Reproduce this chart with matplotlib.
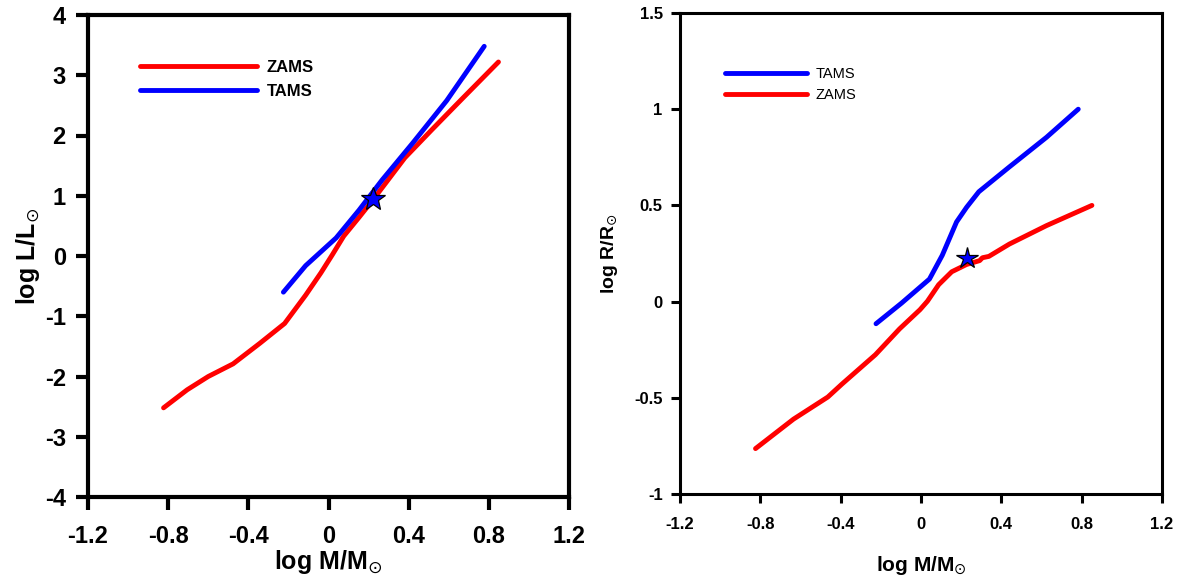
import matplotlib
matplotlib.use("Agg")
import matplotlib.pyplot as plt
from matplotlib.ticker import FixedLocator, FixedFormatter

plt.rcParams['font.family'] = ['Liberation Sans', 'DejaVu Sans']
plt.rcParams['mathtext.fontset'] = 'dejavusans'

# ---- Left panel: log L vs log M ----
zamsL_x = [-0.823, -0.705, -0.600, -0.476, -0.343, -0.219, -0.114, -0.038, 0.019, 0.076, 0.152, 0.219, 0.267, 0.381, 0.514, 0.667, 0.848]
zamsL_y = [-2.52, -2.22, -2.00, -1.79, -1.45, -1.12, -0.65, -0.28, 0.02, 0.33, 0.64, 0.92, 1.13, 1.63, 2.09, 2.61, 3.22]
tamsL_x = [-0.225, -0.114, 0.038, 0.152, 0.267, 0.419, 0.590, 0.777]
tamsL_y = [-0.60, -0.16, 0.30, 0.76, 1.26, 1.87, 2.58, 3.48]
starL = (0.22, 0.95)

# ---- Right panel: log R vs log M ----
tamsR_x = [-0.224, -0.097, 0.042, 0.106, 0.177, 0.227, 0.288, 0.44, 0.625, 0.783]
tamsR_y = [-0.115, -0.008, 0.117, 0.241, 0.414, 0.490, 0.571, 0.70, 0.854, 1.0]
zamsR_x = [-0.824, -0.635, -0.464, -0.394, -0.227, -0.107, -0.005, 0.032, 0.088, 0.153, 0.227, 0.292, 0.306, 0.338, 0.44, 0.625, 0.851]
zamsR_y = [-0.764, -0.611, -0.496, -0.429, -0.276, -0.142, -0.042, 0.002, 0.088, 0.155, 0.193, 0.213, 0.228, 0.235, 0.299, 0.395, 0.50]
starR = (0.227, 0.228)

x_ticks = [-1.2, -0.8, -0.4, 0, 0.4, 0.8, 1.2]
x_labels = ['-1.2', '-0.8', '-0.4', '0', '0.4', '0.8', '1.2']
yL_ticks = [-4, -3, -2, -1, 0, 1, 2, 3, 4]
yL_labels = ['-4', '-3', '-2', '-1', '0', '1', '2', '3', '4']
yR_ticks = [-1, -0.5, 0, 0.5, 1, 1.5]
yR_labels = ['-1', '-0.5', '0', '0.5', '1', '1.5']

W, H = 1184, 580
fig = plt.figure(figsize=(W / 100, H / 100), dpi=100)

def axrect(x0, y0, x1, y1):
    return [x0 / W, 1 - y1 / H, (x1 - x0) / W, (y1 - y0) / H]

axL = fig.add_axes(axrect(88, 15, 569, 497))
axR = fig.add_axes(axrect(680, 13, 1162, 494))

RED = '#ff0000'
BLUE = '#0000ff'
LW = 3.5

# Left
axL.plot(zamsL_x, zamsL_y, color=RED, lw=LW, solid_capstyle='round', label='ZAMS')
axL.plot(tamsL_x, tamsL_y, color=BLUE, lw=LW, solid_capstyle='round', label='TAMS')
axL.plot([starL[0]], [starL[1]], marker='*', ms=18, mfc=BLUE, mec='black', mew=0.9, ls='none', zorder=5)
axL.set_xlim(-1.2, 1.2)
axL.set_ylim(-4, 4)
axL.xaxis.set_major_locator(FixedLocator(x_ticks))
axL.xaxis.set_major_formatter(FixedFormatter(x_labels))
axL.yaxis.set_major_locator(FixedLocator(yL_ticks))
axL.yaxis.set_major_formatter(FixedFormatter(yL_labels))
for s in axL.spines.values():
    s.set_linewidth(3.0)
axL.tick_params(direction='out', length=9, width=3.0, labelsize=17, pad=7)
axL.tick_params(axis='x', pad=11)
for t in axL.get_xticklabels() + axL.get_yticklabels():
    t.set_fontweight('bold')
axL.set_xlabel(r'log M/M$_{\odot}$', fontsize=18, fontweight='bold', labelpad=0)
axL.set_ylabel(r'log L/L$_{\odot}$', fontsize=18, fontweight='bold', labelpad=2)
hL, lL = axL.get_legend_handles_labels()
legL = axL.legend(hL, lL, loc='upper left', bbox_to_anchor=(140 / W, 1 - 60 / H),
                  bbox_transform=fig.transFigure, frameon=False, handlelength=7.0,
                  handletextpad=0.6, labelspacing=0.55, borderpad=0, borderaxespad=0,
                  prop={'family': 'Liberation Sans', 'weight': 'bold', 'size': 12})

# Right
axR.plot(tamsR_x, tamsR_y, color=BLUE, lw=LW, solid_capstyle='round', label='TAMS')
axR.plot(zamsR_x, zamsR_y, color=RED, lw=LW, solid_capstyle='round', label='ZAMS')
axR.plot([starR[0]], [starR[1]], marker='*', ms=16, mfc=BLUE, mec='black', mew=0.9, ls='none', zorder=5)
axR.set_xlim(-1.2, 1.2)
axR.set_ylim(-1, 1.5)
axR.xaxis.set_major_locator(FixedLocator(x_ticks))
axR.xaxis.set_major_formatter(FixedFormatter(x_labels))
axR.yaxis.set_major_locator(FixedLocator(yR_ticks))
axR.yaxis.set_major_formatter(FixedFormatter(yR_labels))
for s in axR.spines.values():
    s.set_linewidth(2.2)
axR.tick_params(direction='out', length=6.5, width=2.2, labelsize=12, pad=6)
axR.tick_params(axis='x', pad=10)
for t in axR.get_xticklabels() + axR.get_yticklabels():
    t.set_fontweight('bold')
axR.set_xlabel(r'log M/M$_{\odot}$', fontsize=15, fontweight='bold', labelpad=16)
axR.set_ylabel(r'log R/R$_{\odot}$', fontsize=14, fontweight='bold', labelpad=10)
hR, lR = axR.get_legend_handles_labels()
legR = axR.legend(hR, lR, loc='upper left', bbox_to_anchor=(725 / W, 1 - 67 / H),
                  bbox_transform=fig.transFigure, frameon=False, handlelength=5.6,
                  handletextpad=0.6, labelspacing=0.5, borderpad=0, borderaxespad=0,
                  prop={'family': 'Liberation Sans', 'size': 10.5})
for lg in (legL, legR):
    for ln in lg.get_lines():
        ln.set_linewidth(LW)
        ln.set_solid_capstyle('round')

fig.savefig('out.png', dpi=100, facecolor='white')
